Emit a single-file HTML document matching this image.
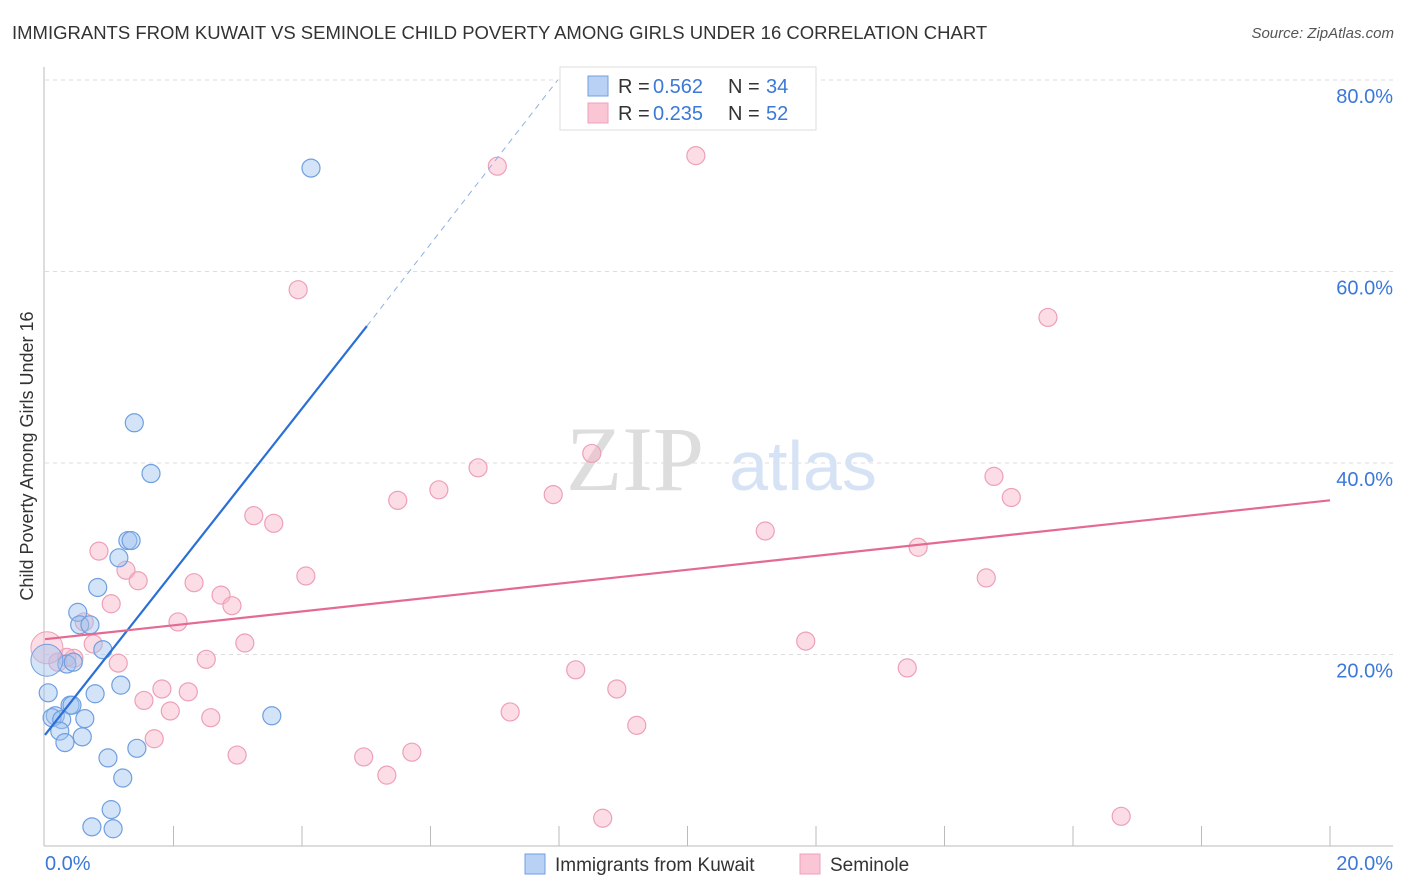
<!DOCTYPE html>
<html><head><meta charset="utf-8"><style>
body{margin:0;background:#fff;font-family:"Liberation Sans",sans-serif;}
#wrap{position:relative;width:1406px;height:892px;overflow:hidden;}
.t{position:absolute;white-space:nowrap;}
</style></head><body>
<div id="wrap">
<div class="t" style="left:12px;top:22px;font-size:18.5px;color:#333;">IMMIGRANTS FROM KUWAIT VS SEMINOLE CHILD POVERTY AMONG GIRLS UNDER 16 CORRELATION CHART</div>
<div class="t" style="right:12px;top:25px;font-size:15px;color:#555;font-style:italic;">Source: ZipAtlas.com</div>
<svg id="svg" width="1406" height="892" style="position:absolute;left:0;top:0"></svg>
</div>
<script>
const xTicks=[0,20];
const yTicks=[20,40,60,80];
const blueX=[4.14,1.39,1.65,1.29,1.34,1.15,0.82,0.51,0.54,0.70,0.90,0.34,0.44,1.18,0.78,0.05,0.39,0.42,0.16,0.11,0.26,0.62,3.53,0.23,0.58,0.31,1.43,0.98,1.21,1.03,0.73,1.06];
const blueY=[70.8,44.2,38.9,31.9,31.9,30.1,27.0,24.4,23.1,23.1,20.5,19.0,19.2,16.8,15.9,16.0,14.7,14.7,13.6,13.4,13.2,13.3,13.6,12.0,11.4,10.8,10.2,9.2,7.1,3.8,2.0,1.8];
const pinkX=[10.13,7.04,3.94,15.61,8.51,6.74,14.77,6.13,7.91,15.04,5.49,3.25,3.56,11.21,13.59,0.84,1.26,4.06,1.45,14.65,2.32,2.74,2.91,1.03,2.07,0.61,0.75,3.11,11.84,0.45,0.20,0.34,2.51,1.14,8.26,13.42,8.90,1.82,2.23,1.54,1.95,7.24,2.58,9.21,1.70,5.71,2.99,4.96,5.32,8.68,16.75];
const pinkY=[72.1,71.0,58.1,55.2,41.0,39.5,38.6,37.2,36.7,36.4,36.1,34.5,33.7,32.9,31.2,30.8,28.8,28.2,27.7,28.0,27.5,26.2,25.1,25.3,23.4,23.4,21.1,21.2,21.4,19.6,19.2,19.7,19.5,19.1,18.4,18.6,16.4,16.4,16.1,15.2,14.1,14.0,13.4,12.6,11.2,9.8,9.5,9.3,7.4,2.9,3.1];
const bigBlue=[0.03,19.4];
const bigPink=[0.03,20.7];
const blueLine=[0,11.6,5.01,54.3,7.98,80];
const pinkLine=[0,21.6,20,36.1];
const X=v=>45+v*(1285/20);
const Y=v=>846-v*(191.5/20);
const NS="http://www.w3.org/2000/svg";
const svg=document.getElementById('svg');
function mk(tag,attrs,name,parent){const e=document.createElementNS(NS,tag);for(const k in attrs)e.setAttribute(k,attrs[k]);


(parent||svg).appendChild(e);return e;}
yTicks.forEach(v=>{mk('line',{x1:45,x2:1393,y1:Y(v),y2:Y(v),stroke:'#ddd','stroke-dasharray':'4,4'},'gridline');
const t=mk('text',{x:1393,y:Y(v)+23,'text-anchor':'end','font-size':20,fill:'#3b78d8'},'y-tick-label');t.textContent=v.toFixed(1)+'%';});
mk('line',{x1:44,x2:44,y1:67,y2:846,stroke:'#bbb'},'y-axis');
mk('line',{x1:44,x2:1393,y1:846,y2:846,stroke:'#bbb'},'x-axis');
for(let i=1;i<=10;i++){mk('line',{x1:X(i*2),x2:X(i*2),y1:826,y2:846,stroke:'#bbb'},'x-tick');}
xTicks.forEach((v,i)=>{const t=mk('text',{x:i?1393:45,y:870,'text-anchor':i?'end':'start','font-size':20,fill:'#3b78d8'},'x-tick-label');t.textContent=v.toFixed(1)+'%';});
const yl=mk('text',{x:0,y:0,transform:'translate(33,456) rotate(-90)','text-anchor':'middle','font-size':18,fill:'#333'},'y-axis-title');yl.textContent='Child Poverty Among Girls Under 16';
const w1=mk('text',{x:635,y:490,'text-anchor':'middle','font-size':92,fill:'#ddd','font-family':'Liberation Serif'},'watermark-zip');w1.textContent='ZIP';
const w2=mk('text',{x:803,y:490,'text-anchor':'middle','font-size':70,fill:'#d6e3f5'},'watermark-atlas');w2.textContent='atlas';
pinkX.forEach((x,i)=>mk('circle',{cx:X(x),cy:Y(pinkY[i]),r:9,fill:'rgba(248,180,200,0.45)',stroke:'#eda0b8','stroke-width':1.2},'seminole-point'));
mk('circle',{cx:X(bigPink[0]),cy:Y(bigPink[1]),r:16,fill:'rgba(248,180,200,0.45)',stroke:'#eda0b8'},'seminole-point-large');
blueX.forEach((x,i)=>mk('circle',{cx:X(x),cy:Y(blueY[i]),r:9,fill:'rgba(160,195,240,0.45)',stroke:'#6f9fe0','stroke-width':1.2},'kuwait-point'));
mk('circle',{cx:X(bigBlue[0]),cy:Y(bigBlue[1]),r:16,fill:'rgba(160,195,240,0.45)',stroke:'#6f9fe0'},'kuwait-point-large');
mk('line',{x1:X(blueLine[0]),y1:Y(blueLine[1]),x2:X(blueLine[2]),y2:Y(blueLine[3]),stroke:'#2a6fd6','stroke-width':2.2},'kuwait-trend-line');
mk('line',{x1:X(blueLine[2]),y1:Y(blueLine[3]),x2:X(blueLine[4]),y2:Y(blueLine[5]),stroke:'#8fb0e0','stroke-width':1,'stroke-dasharray':'6,5'},'kuwait-trend-extension');
mk('line',{x1:X(pinkLine[0]),y1:Y(pinkLine[1]),x2:X(pinkLine[2]),y2:Y(pinkLine[3]),stroke:'#e46a92','stroke-width':2.2},'seminole-trend-line');
mk('rect',{x:560,y:67,width:256,height:63,fill:'#fff',stroke:'#ddd'},'legend-box');
const leg=[['#b8d1f5','#6f9fe0','0.562','34',86],['#fac6d6','#eda0b8','0.235','52',113]];
leg.forEach(l=>{mk('rect',{x:588,y:l[4]-10,width:20,height:20,fill:l[0],stroke:l[1]},'legend-swatch');
const a=mk('text',{x:618,y:l[4]+7,'font-size':20,fill:'#333'},'legend-r-label');a.textContent='R =';
const b=mk('text',{x:653,y:l[4]+7,'font-size':20,fill:'#3b78d8'},'legend-r-value');b.textContent=l[2];
const c=mk('text',{x:728,y:l[4]+7,'font-size':20,fill:'#333'},'legend-n-label');c.textContent='N =';
const d=mk('text',{x:766,y:l[4]+7,'font-size':20,fill:'#3b78d8'},'legend-n-value');d.textContent=l[3];});
[['#b8d1f5','#6f9fe0','Immigrants from Kuwait',525],['#fac6d6','#eda0b8','Seminole',800]].forEach(l=>{
mk('rect',{x:l[3],y:854,width:20,height:20,fill:l[0],stroke:l[1]},'bottom-legend-swatch');
const t=mk('text',{x:l[3]+30,y:871,'font-size':19,fill:'#333'},'bottom-legend-label');t.textContent=l[2];});
</script>
</body></html>
